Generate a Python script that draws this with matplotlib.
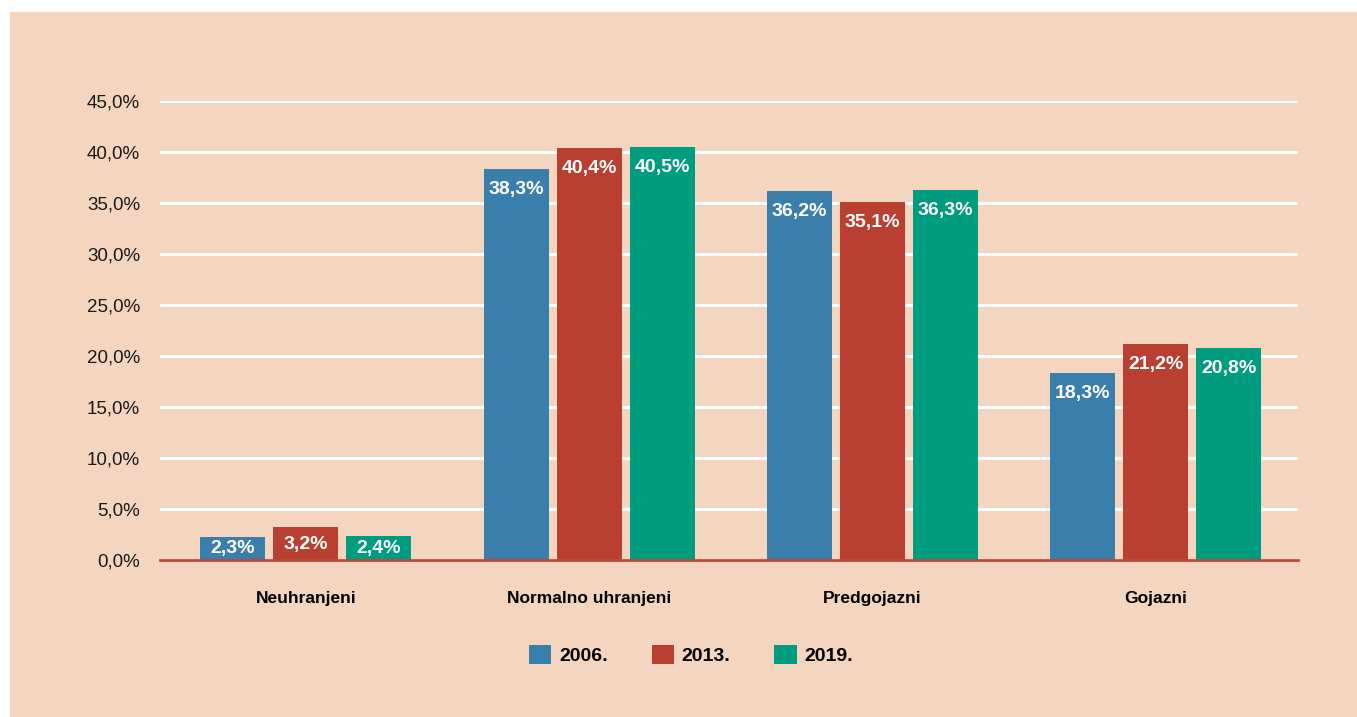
import matplotlib
matplotlib.use("Agg")
import matplotlib.pyplot as plt
from matplotlib.patches import Rectangle, Patch
from matplotlib.ticker import FuncFormatter
import numpy as np

categories = ["Neuhranjeni", "Normalno uhranjeni", "Predgojazni", "Gojazni"]
years = ["2006.", "2013.", "2019."]
v2006 = [2.3, 38.3, 36.2, 18.3]
v2013 = [3.2, 40.4, 35.1, 21.2]
v2019 = [2.4, 40.5, 36.3, 20.8]
series = [v2006, v2013, v2019]
colors = ["#3a7fab", "#b93f31", "#009c7f"]
bg = "#f3d5c0"

plt.rcParams['font.family'] = ['Liberation Sans', 'DejaVu Sans']

W, H = 1357, 717
fig = plt.figure(figsize=(W / 100, H / 100), dpi=100)
fig.patch.set_facecolor("white")
fig.patches.append(Rectangle((10 / W, 0), 1 - 10 / W, 1 - 12 / H, transform=fig.transFigure,
                             facecolor=bg, edgecolor="none", zorder=-10))

ax = fig.add_axes([160 / W, 1 - 560 / H, (1298 - 160) / W, (560 - 101) / H])
ax.set_zorder(1)
ax.patch.set_visible(False)

pxu = 283.2
x = np.arange(len(categories))
bw = 65 / pxu
step = 73 / pxu
for i, (vals, c) in enumerate(zip(series, colors)):
    xs = x + (i - 1) * step
    ax.bar(xs, vals, width=bw, color=c, zorder=3)
    for xi, v in zip(xs, vals):
        txt = f"{v:.1f}%".replace(".", ",")
        if v < 5:
            ax.annotate(txt, (xi, v / 2), xytext=(0, -0.5), textcoords="offset points",
                        ha="center", va="center", color="white", fontsize=14,
                        fontweight="bold", zorder=4)
        else:
            ax.annotate(txt, (xi, v), xytext=(0, -8.5), textcoords="offset points",
                        ha="center", va="top", color="white", fontsize=14,
                        fontweight="bold", zorder=4)

ax.set_xlim(-(306 - 160) / pxu, 3 + (1298 - 1155.5) / pxu)
ax.set_ylim(0, 45)
ax.set_yticks(np.arange(0, 46, 5))
ax.yaxis.set_major_formatter(FuncFormatter(lambda v, p: f"{v:.1f}%".replace(".", ",")))
ax.grid(axis="y", color="white", linewidth=2.2, zorder=1)
ax.set_axisbelow(True)
for s in ax.spines.values():
    s.set_visible(False)
ax.axhline(0, color="#c0483a", linewidth=2, zorder=5, clip_on=False)
ax.tick_params(axis="y", length=0, pad=14.4, labelsize=13.5, labelcolor="#1a1a1a")
ax.tick_params(axis="x", length=0, pad=22, labelsize=12.5)
ax.set_xticks(x)
ax.set_xticklabels(categories, fontweight="bold")

handles = [Patch(facecolor=c, edgecolor="none") for c in colors]
leg = fig.legend(handles, years, loc="center", bbox_to_anchor=(691 / W, 1 - 655 / H), ncol=3,
                 frameon=False, prop={"weight": "bold", "size": 14},
                 handlelength=1.15, handleheight=1.15, handletextpad=0.4, columnspacing=2.25)

fig.savefig("out.png", dpi=100, facecolor=fig.get_facecolor())
